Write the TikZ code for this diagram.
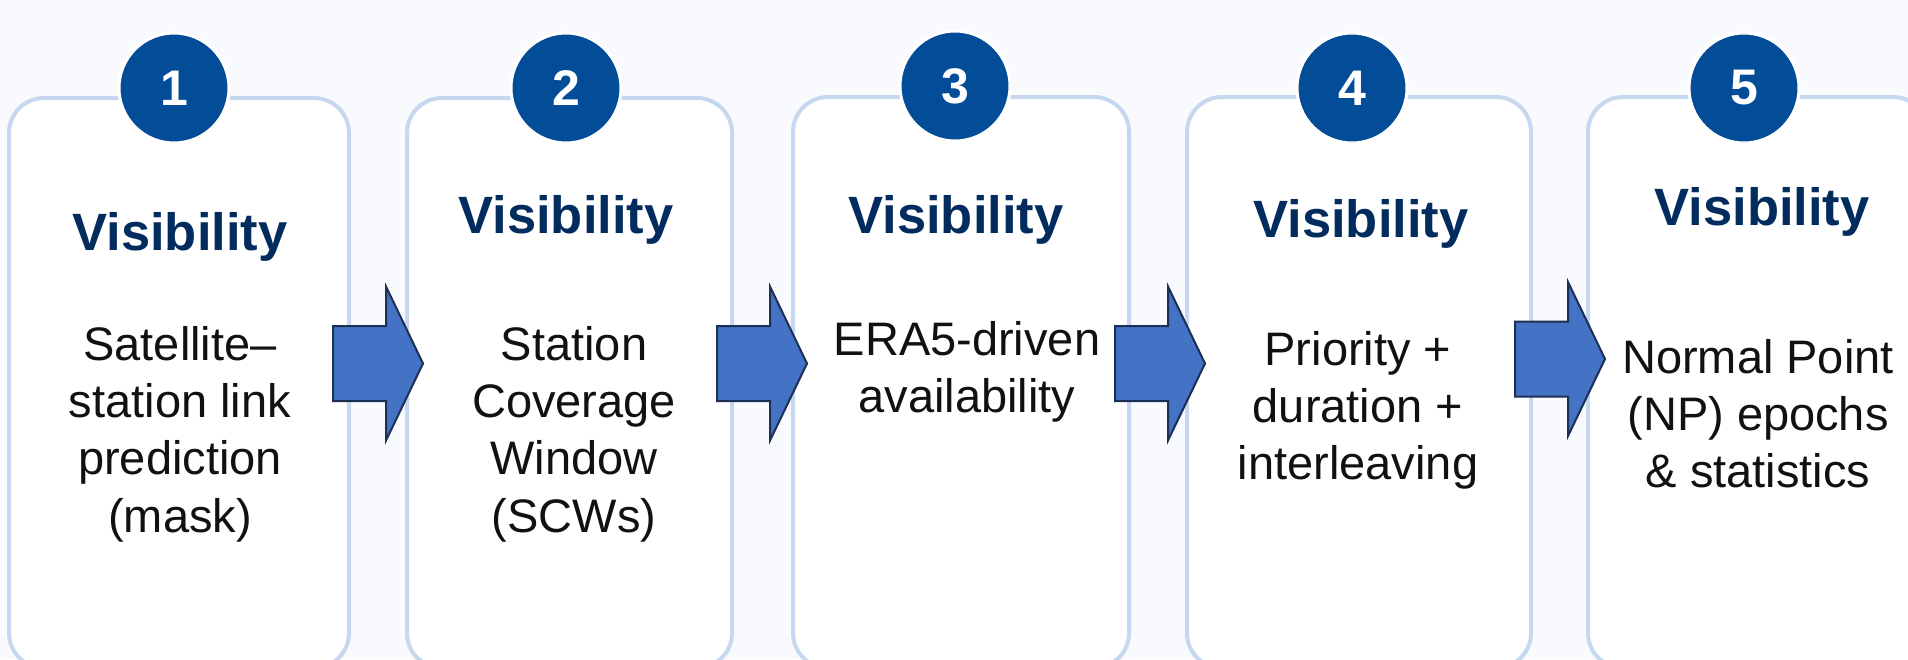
\documentclass[tikz,border=0pt]{standalone}
\usepackage{fontspec}
\setmainfont{Liberation Sans}
\definecolor{pagebg}{HTML}{F9FAFD}
\definecolor{panelline}{HTML}{C6D8F0}
\definecolor{badgeblue}{HTML}{034C97}
\definecolor{titleblue}{HTML}{022B5E}
\definecolor{arrowfill}{HTML}{4472C4}
\definecolor{arrowline}{HTML}{1C2F55}
\definecolor{bodytext}{HTML}{111111}

\tikzset{
  panel/.style={draw=panelline, line width=4pt, fill=white, rounded corners=35pt},
  badge/.style={circle, fill=badgeblue, draw=white, line width=3pt, minimum size=110pt,
                inner sep=0pt, text=white, font=\fontsize{50}{50}\bfseries\selectfont},
  steptitle/.style={anchor=base, inner sep=0pt, text=titleblue,
                    font=\fontsize{52.5}{60}\bfseries\selectfont},
  stepbody/.style={anchor=base, inner sep=0pt, text=bodytext},
  blockarrow/.pic={
    \draw[fill=arrowfill, draw=arrowline, line width=2pt, line join=miter]
      (0,-37.5) -- (53,-37.5) -- (53,-77) -- (90,0) -- (53,77) -- (53,37.5) -- (0,37.5) -- cycle;
  }
}
\newcommand{\bodylines}[1]{%
  \fontsize{47}{57.4}\selectfont\renewcommand{\arraystretch}{1}%
  \setlength{\tabcolsep}{0pt}\begin{tabular}[t]{c}#1\end{tabular}}

\begin{document}
\begin{tikzpicture}[x=1pt, y=-1pt]
  \useasboundingbox (0,0) rectangle (1908,659);
  \fill[pagebg] (0,0) rectangle (1908,659);

  \begin{scope}
    \clip (0,0) rectangle (1908,659);

    % rounded panels, open at the bottom edge
    \draw[panel] (9,98)    rectangle (349,668);
    \draw[panel] (407,98)  rectangle (732,668);
    \draw[panel] (793,97)  rectangle (1129,668);
    \draw[panel] (1187,97) rectangle (1531,668);
    \draw[panel] (1588,97) rectangle (1928,668);

    % numbered badges on the top edges
    \node[badge] (n1) at (174,88)  {1};
    \node[badge] (n2) at (566,88)  {2};
    \node[badge] (n3) at (955,86)  {3};
    \node[badge] (n4) at (1352,88) {4};
    \node[badge] (n5) at (1744,88) {5};

    % headings
    \node[steptitle] (t1) at (180,250)  {Visibility};
    \node[steptitle] (t2) at (566,233)  {Visibility};
    \node[steptitle] (t3) at (956,233)  {Visibility};
    \node[steptitle] (t4) at (1361,237) {Visibility};
    \node[steptitle] (t5) at (1762,225) {Visibility};

    % step descriptions
    \node[stepbody] (d1) at (180,360)
      {\bodylines{Satellite–\\station link\\prediction\\(mask)}};
    \node[stepbody] (d2) at (574,360)
      {\bodylines{Station\\Coverage\\Window\\(SCWs)}};
    \node[stepbody] (d3) at (967,355)
      {\bodylines{ERA5-driven\\availability}};
    \node[stepbody] (d4) at (1358,365)
      {\bodylines{Priority +\\duration +\\interleaving}};
    \node[stepbody] (d5) at (1758,373)
      {\bodylines{Normal Point\\(NP) epochs\\\& statistics}};

    % block arrows between the steps
    \pic (a1) at (333,363.5)  {blockarrow};
    \pic (a2) at (717,363.5)  {blockarrow};
    \pic (a3) at (1115,363.5) {blockarrow};
    \pic (a4) at (1515,359)   {blockarrow};
  \end{scope}
\end{tikzpicture}
\end{document}
